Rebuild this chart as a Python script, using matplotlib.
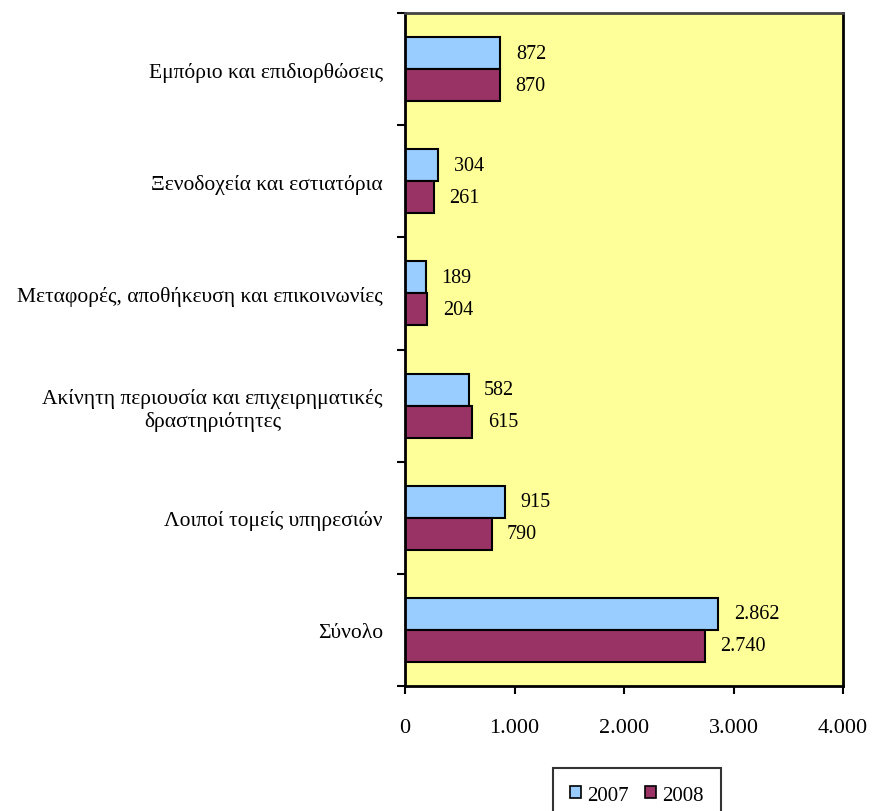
import matplotlib
matplotlib.use("Agg")
import matplotlib.pyplot as plt
import numpy as np
from matplotlib.ticker import FuncFormatter, FixedLocator
from matplotlib.patches import Patch

categories = ["Εμπόριο και επιδιορθώσεις",
              "Ξενοδοχεία και εστιατόρια",
              "Μεταφορές, αποθήκευση και επικοινωνίες",
              "Ακίνητη περιουσία και επιχειρηματικές\nδραστηριότητες",
              "Λοιποί τομείς υπηρεσιών",
              "Σύνολο"]
series_names = ["2007", "2008"]
values_2007 = [872, 304, 189, 582, 915, 2862]
values_2008 = [870, 261, 204, 615, 790, 2740]
x_ticks = [0, 1000, 2000, 3000, 4000]

plt.rcParams['font.family'] = ['Liberation Serif', 'DejaVu Serif']

def fmt(v):
    return f"{int(v):,}".replace(",", ".")

fig = plt.figure(figsize=(8.72, 8.12), dpi=100)
W, H = 872, 812
left, right, top, bottom = 405, 843, 14, 687
ax = fig.add_axes([left / W, 1 - bottom / H, (right - left) / W, (bottom - top) / H])
ax.set_facecolor("#FFFF99")

n = len(categories)
pos = np.arange(n)
h = 0.285
c07, c08 = "#99CCFF", "#993366"
ax.barh(pos - h / 2, values_2007, height=h, color=c07, edgecolor="black", linewidth=1.5)
ax.barh(pos + h / 2, values_2008, height=h, color=c08, edgecolor="black", linewidth=1.5)

for i in range(n):
    ax.text(values_2007[i] + 140, pos[i] - h / 2, fmt(values_2007[i]), va="center", ha="left", fontsize=14.5)
    ax.text(values_2008[i] + 140, pos[i] + h / 2, fmt(values_2008[i]), va="center", ha="left", fontsize=14.5)

ax.set_xlim(0, 4000)
ax.set_ylim(n - 0.5, -0.5)
ax.xaxis.set_major_locator(FixedLocator(x_ticks))
ax.xaxis.set_major_formatter(FuncFormatter(lambda v, p: fmt(v)))
ax.tick_params(axis="x", direction="out", length=6, width=1.5, pad=17, labelsize=16)

ax.set_yticks(pos)
ax.set_yticklabels(categories, fontsize=15.5, multialignment="center")
ax.tick_params(axis="y", which="major", length=0, pad=16)
ax.set_yticks(np.arange(n + 1) - 0.5, minor=True)
ax.tick_params(axis="y", which="minor", direction="out", length=6, width=1.5)

for s in ["left", "bottom", "right"]:
    ax.spines[s].set_linewidth(2)
    ax.spines[s].set_color("black")
ax.spines["top"].set_linewidth(2)
ax.spines["top"].set_color("#444444")

handles = [Patch(facecolor=c07, edgecolor="black", linewidth=1.2),
           Patch(facecolor=c08, edgecolor="black", linewidth=1.2)]
leg = fig.legend(handles, series_names, loc="upper center", bbox_to_anchor=(637 / W, 1 - 769 / H),
                 ncol=2, fontsize=15, frameon=True, fancybox=False, edgecolor="black",
                 handlelength=0.5, handleheight=0.5, handletextpad=0.3, columnspacing=0.8,
                 borderpad=0.85, borderaxespad=0)
leg.get_frame().set_linewidth(1.5)

fig.savefig("out.png", dpi=100)
